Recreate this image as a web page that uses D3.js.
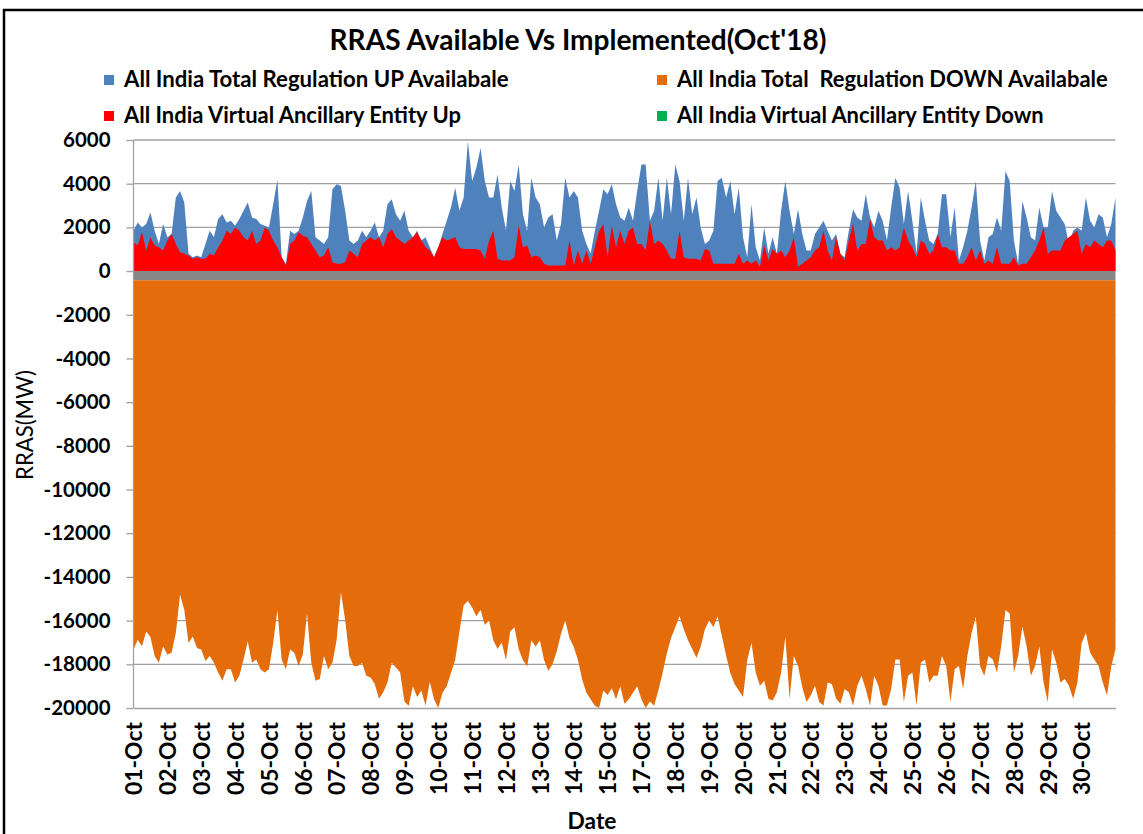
<!DOCTYPE html>
<html>
<head>
<meta charset="utf-8">
<script src="https://cdn.jsdelivr.net/npm/d3@7"></script>
<style>
  body { margin: 0; background: #fff; }
  svg { display: block; font-family: Lato, "Open Sans", sans-serif; }
</style>
</head>
<body>
<svg id="chart" width="1143" height="834"></svg>
<script>
(function() {

    // category labels as Excel printed them (16-Oct falls between two labels)
    var dateLabels = ['01-Oct', '02-Oct', '03-Oct', '04-Oct', '05-Oct', '06-Oct', '07-Oct', '08-Oct',
        '09-Oct', '10-Oct', '11-Oct', '12-Oct', '13-Oct', '14-Oct', '15-Oct', '17-Oct', '18-Oct',
        '19-Oct', '20-Oct', '21-Oct', '22-Oct', '23-Oct', '24-Oct', '25-Oct', '26-Oct', '27-Oct',
        '28-Oct', '29-Oct', '30-Oct'];

    var perLabel = 8; // samples read between two neighbouring labels

    // All India Total Regulation UP Availabale (MW)
    var upAvail = [
        1848, 2227, 2000, 2151, 2682, 1848, 1242, 2151,
        1545, 1697, 3363, 3666, 3136, 788, 636, 712,
        636, 1242, 1848, 1545, 2379, 2606, 2227, 2303,
        2076, 2379, 2757, 3136, 2454, 2379, 2151, 2076,
        2000, 3060, 4197, 636, 333, 1848, 1697, 1848,
        2454, 3212, 3666, 1545, 1394, 1242, 1545, 3742,
        3969, 3894, 2757, 1394, 1242, 1394, 1848, 1545,
        1848, 2227, 1545, 1848, 3060, 3288, 2606, 2303,
        2757, 1848, 1545, 1848, 1394, 1545, 1091, 636,
        1091, 1697, 2303, 2909, 3818, 2757, 3363, 5939,
        4121, 4727, 5636, 4121, 3363, 3363, 4424, 2909,
        1848, 4121, 3666, 4878, 2606, 1848, 4272, 3363,
        3060, 2000, 2454, 2606, 1394, 2151, 4272, 3363,
        3666, 3363, 1848, 1242, 788, 1848, 2757, 3742,
        3515, 3969, 3060, 2454, 2303, 2909, 2303, 3666,
        4878, 4878, 2303, 2757, 4272, 2303, 4272, 2606,
        4878, 4121, 2303, 4272, 2606, 3363, 2000, 1242,
        1394, 1848, 4121, 4272, 3363, 4121, 2606, 3818,
        1545, 636, 3060, 1091, 485, 2000, 788, 1545,
        788, 2757, 4121, 2757, 1697, 2833, 1697, 939,
        939, 1697, 2000, 2303, 1848, 1394, 1697, 788,
        636, 1848, 2833, 2454, 2303, 3515, 2454, 2000,
        2757, 2303, 1394, 2909, 4272, 3818, 2151, 3666,
        2303, 788, 3363, 2303, 1394, 1242, 1697, 3515,
        3515, 1545, 2909, 485, 1091, 1848, 2909, 4121,
        1394, 485, 1545, 1697, 2454, 1848, 4575, 4121,
        1394, 333, 3212, 2454, 1545, 1394, 2909, 2000,
        2000, 3666, 2757, 2454, 2151, 1242, 1848, 2000,
        1848, 3363, 2303, 2000, 2606, 2454, 1545, 2151,
        3363
    ];

    // All India Virtual Ancillary Entity Up (MW)
    var vaeUp = [
        1318, 1167, 1773, 939, 1545, 1167, 1091, 939,
        1394, 1697, 1242, 864, 788, 712, 560, 636,
        560, 560, 788, 712, 1091, 1394, 1848, 1697,
        2000, 1848, 1545, 1394, 1848, 1242, 1394, 2000,
        1848, 1394, 1091, 636, 258, 1242, 1394, 1773,
        1621, 1545, 1242, 939, 636, 712, 1091, 409,
        333, 333, 409, 939, 788, 636, 1242, 1394,
        1545, 1394, 1545, 1091, 1697, 1924, 1545, 1394,
        1242, 1394, 1545, 1773, 1394, 1091, 939, 636,
        1091, 1545, 1394, 1470, 1545, 1091, 1015, 1015,
        1015, 1015, 939, 560, 1394, 1848, 560, 485,
        485, 485, 636, 2076, 1091, 1167, 636, 712,
        636, 333, 258, 258, 258, 258, 258, 1394,
        258, 939, 333, 939, 333, 1091, 1848, 2151,
        636, 2076, 1091, 1848, 1242, 1848, 2000, 1242,
        1242, 939, 2303, 1242, 1394, 1242, 939, 560,
        560, 1848, 636, 560, 560, 560, 485, 1015,
        939, 333, 333, 333, 333, 333, 333, 788,
        333, 485, 333, 485, 182, 1167, 485, 1015,
        788, 939, 636, 939, 1545, 182, 333, 485,
        636, 939, 1091, 1848, 939, 485, 1545, 788,
        485, 1394, 2151, 939, 1242, 1242, 2379, 1545,
        1394, 1394, 939, 1091, 939, 1091, 2000, 1394,
        1091, 636, 1394, 1242, 788, 939, 1697, 1091,
        1091, 939, 939, 333, 333, 636, 1091, 485,
        939, 333, 485, 333, 1091, 333, 333, 333,
        636, 258, 333, 333, 636, 939, 1394, 2000,
        788, 939, 939, 939, 1394, 1545, 1697, 1848,
        788, 1242, 1091, 1394, 1242, 1091, 1394, 1394,
        939
    ];

    // All India Total Regulation DOWN Availabale (MW)
    var downAvail = [
        -17324, -16872, -17173, -16496, -16752, -17624, -17925, -17173,
        -17549, -17474, -16572, -14800, -15519, -17023, -16722, -17248,
        -17324, -17850, -17624, -17925, -18376, -18752, -18226, -18226,
        -18828, -18527, -17775, -16948, -17925, -17775, -18226, -18376,
        -18226, -17023, -15519, -17775, -18226, -17324, -17474, -18076,
        -17549, -15669, -17925, -18752, -18677, -17624, -18226, -17925,
        -16872, -14700, -15970, -17624, -18076, -18076, -17925, -18527,
        -18602, -18903, -19580, -19279, -18828, -17925, -18151, -18376,
        -19700, -19900, -19000, -19500, -19200, -19900, -18800, -19600,
        -20000, -19300, -19000, -18400, -17800, -16500, -15300, -15100,
        -15400, -15800, -15500, -16200, -16000, -16900, -17300, -17000,
        -17800, -16500, -16300, -17300, -17800, -18100, -16900, -17200,
        -16900, -17800, -18300, -18000, -17400, -16600, -16000, -16800,
        -17200, -17800, -18700, -19300, -19600, -19900, -20000, -19200,
        -19400, -19100, -19600, -19000, -19800, -19600, -19300, -19000,
        -19600, -20000, -19700, -19900, -19200, -18400, -17500, -16800,
        -16300, -15800, -16400, -16900, -17300, -17700, -17200, -16400,
        -16000, -16300, -15800, -16700, -17600, -18400, -18900, -19200,
        -19500, -17800, -17023, -18376, -18978, -18752, -19580, -19655,
        -19279, -18376, -16722, -19580, -17624, -18076, -19053, -19730,
        -19430, -18978, -19730, -19880, -18828, -18903, -19580, -19800,
        -19128, -19279, -19880, -18978, -18527, -19128, -19880, -18527,
        -18978, -19880, -19880, -19128, -17775, -17775, -19730, -18527,
        -18376, -19880, -17925, -17775, -18828, -18527, -18527, -17624,
        -18076, -19730, -18226, -18076, -19128, -17624, -16572, -15820,
        -18076, -18527, -17624, -17775, -18376, -17173, -15519, -15669,
        -18376, -17624, -16270, -17173, -18527, -18076, -17173, -18828,
        -19730, -17324, -17925, -18828, -18677, -18978, -19580, -18828,
        -17023, -16572, -17474, -17775, -18076, -18828, -19430, -18076,
        -17324
    ];

    var greyBand = -420; // grey strip printed just under zero

    var yTicks = [-20000, -18000, -16000, -14000, -12000, -10000, -8000, -6000,
        -4000, -2000, 0, 2000, 4000, 6000];

    var legendNames = ['All India Total Regulation UP Availabale',
        'All India Total  Regulation DOWN Availabale',
        'All India Virtual Ancillary Entity Up',
        'All India Virtual Ancillary Entity Down'];
    var legendColors = ['#4F81BD', '#E46C0A', '#FF0000', '#00B050'];

    var svg = d3.select('#chart');

    var x = d3.scaleLinear().domain([0, dateLabels.length]).range([133.5, 1115.5]);
    var y = d3.scaleLinear().domain([-20000, 6000]).range([708, 140]);

    // scale a font so that one sample string covers the width seen in the picture
    function fitFont(sel, targetW) {
        var w = sel.node().getComputedTextLength();
        var fs = parseFloat(sel.attr('font-size'));
        return fs * targetW / w;
    }

    // frame
    svg.append('rect')
        .attr('x', 4).attr('y', 10)
        .attr('width', 1300).attr('height', 1000)
        .attr('fill', 'none')
        .attr('stroke', '#000')
        .attr('stroke-width', 2.5);

    // gridlines
    svg.append('g')
        .selectAll('line')
        .data(yTicks.filter(function(d) { return d > -20000; }))
        .enter()
        .append('line')
        .attr('x1', x(0)).attr('x2', x(dateLabels.length))
        .attr('y1', function(d) { return y(d); })
        .attr('y2', function(d) { return y(d); })
        .attr('stroke', '#A0A0A0')
        .attr('stroke-width', 1.3);

    function xi(d, i) {
        return x(i / perLabel);
    }

    var upArea = d3.area().x(xi).y0(y(0)).y1(function(d) { return y(d); });
    var downArea = d3.area().x(xi).y0(y(greyBand)).y1(function(d) { return y(d); });

    svg.append('path').datum(upAvail).attr('d', upArea).attr('fill', legendColors[0]);
    svg.append('path').datum(vaeUp).attr('d', upArea).attr('fill', legendColors[2]);

    svg.append('rect')
        .attr('x', x(0))
        .attr('y', y(0))
        .attr('width', x(dateLabels.length) - x(0))
        .attr('height', y(greyBand) - y(0))
        .attr('fill', '#878787');

    svg.append('path').datum(downAvail).attr('d', downArea).attr('fill', legendColors[1]);

    // y axis (plain hyphen for negatives, like Excel)
    var yAxis = svg.append('g')
        .attr('transform', 'translate(' + x(0) + ',0)')
        .call(d3.axisLeft(y).tickValues(yTicks).tickSize(7).tickPadding(16)
            .tickFormat(function(d) { return String(d); }));
    yAxis.selectAll('path, line').attr('stroke', '#A0A0A0').attr('stroke-width', 1.3);
    yAxis.select('.domain').attr('d', 'M0,' + y(6000) + 'V' + y(-20000));
    var yText = yAxis.selectAll('text')
        .attr('font-family', 'Lato, sans-serif')
        .attr('font-weight', 'bold')
        .attr('font-size', 20)
        .attr('fill', '#000');
    yText.attr('font-size', fitFont(yAxis.selectAll('text').filter(function(d) { return d === -20000; }), 67));

    // x axis
    var xAxis = svg.append('g')
        .attr('transform', 'translate(0,' + y(-20000) + ')')
        .call(d3.axisBottom(x)
            .tickValues(d3.range(dateLabels.length))
            .tickSize(0)
            .tickFormat(function(i) { return dateLabels[i]; }));
    xAxis.select('.domain').attr('stroke', '#A0A0A0').attr('stroke-width', 1.3);
    var xText = xAxis.selectAll('text')
        .attr('font-family', 'Lato, sans-serif')
        .attr('font-weight', 'bold')
        .attr('font-size', 20)
        .attr('fill', '#000')
        .attr('text-anchor', 'end')
        .attr('transform', 'rotate(-90)')
        .attr('x', -14)
        .attr('y', 0)
        .attr('dy', '0.36em');
    xText.attr('font-size', fitFont(xAxis.select('text'), 73));

    // title
    var title = svg.append('text')
        .attr('x', 578).attr('y', 50)
        .attr('text-anchor', 'middle')
        .attr('font-weight', 'bold')
        .attr('font-size', 24)
        .text("RRAS Available Vs Implemented(Oct'18)");
    title.attr('font-size', fitFont(title, 497));

    // legend
    var legendPos = [
        { x: 104, y: 80, w: 385 },
        { x: 657, y: 80, w: 431 },
        { x: 104, y: 116, w: 337 },
        { x: 657, y: 116, w: 367 }
    ];
    var lg = svg.append('g').selectAll('g')
        .data(legendNames)
        .enter()
        .append('g')
        .attr('transform', function(d, i) {
            return 'translate(' + legendPos[i].x + ',' + legendPos[i].y + ')';
        });
    lg.append('rect')
        .attr('x', 0).attr('y', -5)
        .attr('width', 10).attr('height', 10)
        .attr('fill', function(d, i) { return legendColors[i]; });
    lg.append('text')
        .attr('x', 20).attr('y', 6.5)
        .attr('font-weight', 'bold')
        .attr('font-size', 18)
        .style('white-space', 'pre')
        .text(function(d) { return d; })
        .each(function(d, i) {
            var t = d3.select(this);
            t.attr('font-size', fitFont(t, legendPos[i].w));
        });

    // axis titles
    var yTitle = svg.append('text')
        .attr('transform', 'translate(33,425) rotate(-90)')
        .attr('text-anchor', 'middle')
        .attr('font-size', 18)
        .text('RRAS(MW)');
    yTitle.attr('font-size', fitFont(yTitle, 110));

    var xTitle = svg.append('text')
        .attr('x', 592).attr('y', 829)
        .attr('text-anchor', 'middle')
        .attr('font-weight', 'bold')
        .attr('font-size', 20)
        .text('Date');
    xTitle.attr('font-size', fitFont(xTitle, 49));

})();
</script>
</body>
</html>
